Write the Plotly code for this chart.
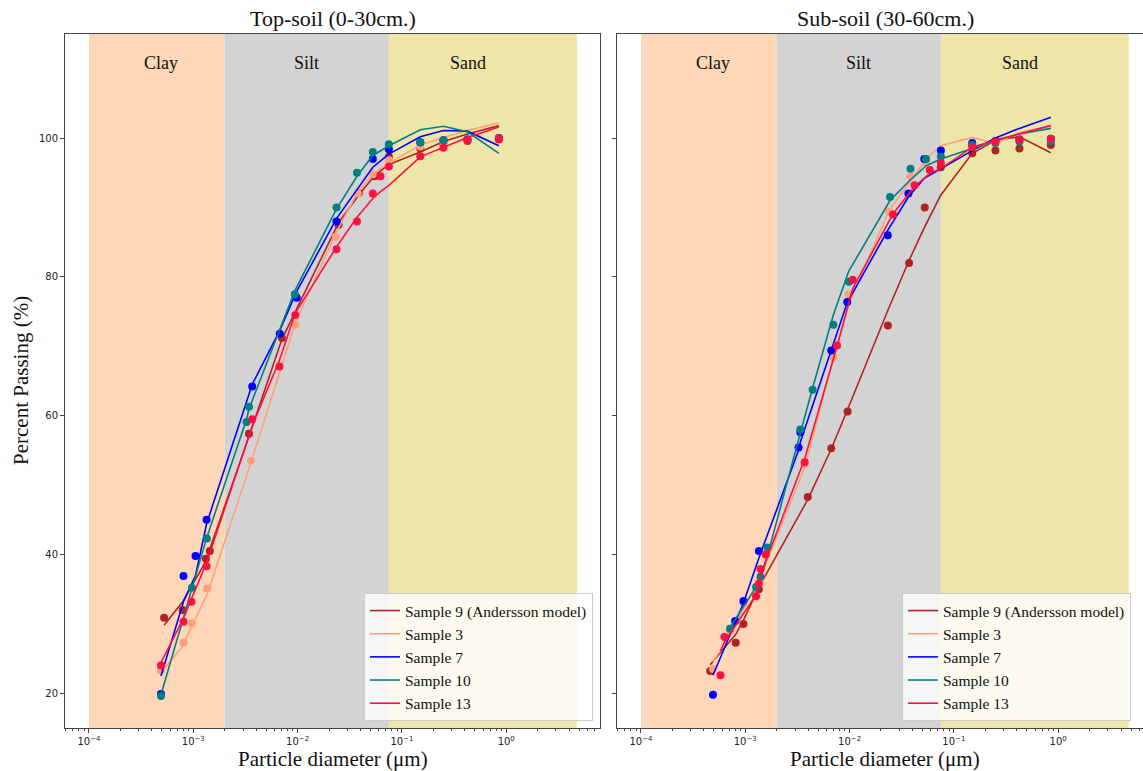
import math
import plotly.graph_objects as go

# ---------------- DATA ----------------
sample_names = ["Sample 9 (Andersson model)", "Sample 3", "Sample 7", "Sample 10", "Sample 13"]
sample_colors = ["#B22222", "#FFA07A", "#0000FF", "#008080", "#FF1040"]

# Top-soil (0-30cm.)
x9t = [0.000525, 0.00079, 0.00132, 0.00144, 0.00342, 0.00707, 0.0247, 0.0386, 0.0548, 0.075, 0.15, 0.25, 0.425, 0.85]
m9t = [30.9, 32.0, 39.4, 40.5, 57.4, 71.2, 87.5, 92.1, 94.5, 97.3, 98.5, 99.2, 99.6, 99.8]
f9t = [29.8, 33.2, 39.0, 40.8, 57.0, 71.0, 87.8, 91.8, 94.6, 96.2, 98.0, 99.5, 100.6, 101.8]

x3t = [0.00049, 0.000805, 0.00097, 0.00136, 0.00358, 0.0095, 0.0232, 0.0378, 0.0526, 0.075, 0.15, 0.25, 0.425, 0.85]
m3t = [23.3, 27.3, 30.1, 35.1, 53.5, 73.1, 85.8, 92.0, 94.8, 96.8, 98.8, 99.4, 99.7, 100.0]
f3t = [23.0, 26.9, 29.7, 34.3, 53.3, 73.3, 86.3, 92.2, 94.8, 96.4, 99.0, 100.1, 101.1, 102.2]

x7t = [0.00049, 0.000805, 0.00105, 0.00134, 0.00367, 0.00675, 0.0098, 0.0236, 0.0526, 0.075, 0.15, 0.25, 0.425, 0.85]
m7t = [19.9, 36.9, 39.8, 45.0, 64.2, 71.8, 77.0, 88.0, 97.0, 98.4, 99.4, 99.7, 99.8, 100.0]
f7t = [22.5, 33.2, 37.0, 44.4, 64.5, 72.3, 77.9, 88.4, 95.8, 97.7, 100.2, 101.1, 101.0, 98.9]

x10t = [0.00049, 0.00097, 0.00135, 0.00324, 0.00342, 0.0094, 0.0236, 0.0371, 0.0526, 0.075, 0.15, 0.25, 0.425, 0.85]
m10t = [19.6, 35.2, 42.3, 59.1, 61.3, 77.5, 90.0, 95.0, 98.0, 99.1, 99.4, 99.7, 99.8, 100.0]
f10t = [19.8, 35.0, 42.5, 59.5, 61.0, 78.0, 89.8, 94.5, 97.5, 98.9, 101.2, 101.7, 100.9, 97.8]

x13t = [0.000489, 0.000805, 0.00096, 0.00134, 0.00367, 0.0067, 0.0095, 0.0236, 0.0371, 0.0526, 0.0623, 0.075, 0.15, 0.25, 0.425, 0.85]
m13t = [24.0, 30.3, 33.2, 38.3, 59.5, 67.1, 74.5, 84.0, 88.0, 92.0, 94.5, 95.9, 97.4, 98.6, 99.7, 99.9]
f13t = [24.4, 30.8, 33.6, 38.8, 58.5, 68.0, 74.8, 84.3, 88.6, 91.3, 92.3, 93.2, 97.3, 98.7, 100.1, 101.6]

# Sub-soil (30-60cm.)
x9s = [0.000461, 0.00081, 0.00096, 0.00135, 0.00397, 0.00667, 0.00957, 0.0233, 0.0372, 0.0525, 0.075, 0.15, 0.25, 0.425, 0.85]
m9s = [23.2, 27.3, 30.0, 35.0, 48.3, 55.3, 60.6, 73.0, 82.0, 90.0, 95.8, 97.8, 98.2, 98.5, 99.0]
f9s = [24.1, 28.5, 30.5, 35.3, 47.9, 55.2, 60.9, 75.2, 82.4, 87.2, 91.8, 97.8, 99.7, 100.2, 97.9]

x3s = [0.00049, 0.00072, 0.00096, 0.0014, 0.0037, 0.00698, 0.0098, 0.0239, 0.038, 0.054, 0.075, 0.15, 0.25, 0.425, 0.85]
m3s = [23.5, 29.0, 33.0, 36.5, 53.0, 68.4, 77.5, 89.4, 94.5, 96.5, 97.5, 99.0, 99.5, 99.6, 99.8]
f3s = [24.5, 28.5, 32.2, 36.8, 52.5, 68.2, 76.0, 89.6, 93.7, 97.0, 98.9, 100.1, 99.2, 100.8, 101.8]

x7s = [0.00049, 0.0008, 0.00096, 0.00135, 0.00324, 0.00337, 0.00667, 0.0095, 0.0232, 0.0366, 0.052, 0.075, 0.15, 0.25, 0.425, 0.85]
m7s = [19.8, 30.4, 33.3, 40.5, 55.4, 57.6, 69.4, 76.4, 86.0, 92.0, 97.0, 98.2, 99.3, 99.6, 99.8, 99.9]
f7s = [22.6, 30.0, 33.0, 39.5, 55.0, 56.2, 69.3, 76.3, 86.7, 91.5, 94.2, 95.6, 98.2, 100.0, 101.4, 103.0]

x10s = [0.000713, 0.00127, 0.0014, 0.00163, 0.00337, 0.00442, 0.00698, 0.0098, 0.0244, 0.0384, 0.054, 0.075, 0.15, 0.25, 0.425, 0.85]
m10s = [29.3, 35.3, 36.8, 41.0, 58.0, 63.75, 73.1, 79.3, 91.5, 95.6, 97.0, 97.3, 99.0, 99.3, 99.5, 99.5]
f10s = [29.5, 35.3, 37.0, 39.8, 57.5, 64.0, 74.5, 80.8, 91.0, 94.0, 96.0, 97.0, 98.5, 99.7, 100.6, 101.4]

x13s = [0.000578, 0.000632, 0.00127, 0.00135, 0.0014, 0.00157, 0.00371, 0.00758, 0.0107, 0.0261, 0.042, 0.0588, 0.075, 0.15, 0.25, 0.425, 0.85]
m13s = [22.6, 28.1, 34.0, 35.8, 37.9, 40.0, 53.3, 70.1, 79.6, 89.0, 93.2, 95.4, 96.4, 98.7, 99.5, 99.8, 99.9]
f13s = [26.1, 27.4, 34.2, 35.6, 36.6, 39.0, 53.8, 70.0, 78.3, 89.1, 93.0, 94.9, 95.6, 98.7, 99.7, 100.6, 101.8]

# soil classes
band_names = ["Clay", "Silt", "Sand"]
band_lo = [0.0001, 0.002, 0.075]
band_hi = [0.002, 0.075, 4.75]
band_label_x = [0.00049, 0.0122, 0.43]
band_colors = ["#FDD7B8", "#D3D3D3", "#EEE6A8"]

panel_titles = ["Top-soil (0-30cm.)", "Sub-soil (30-60cm.)"]
xtick_vals = [1e-4, 1e-3, 1e-2, 1e-1, 1e0]
xtick_text = ["10<sup>−4</sup>", "10<sup>−3</sup>", "10<sup>−2</sup>", "10<sup>−1</sup>", "10<sup>0</sup>"]
ytick_vals = [20, 40, 60, 80, 100]

top_series = [(x9t, m9t, f9t), (x3t, m3t, f3t), (x7t, m7t, f7t), (x10t, m10t, f10t), (x13t, m13t, f13t)]
sub_series = [(x9s, m9s, f9s), (x3s, m3s, f3s), (x7s, m7s, f7s), (x10s, m10s, f10s), (x13s, m13s, f13s)]

# ---------------- FIGURE ----------------
W, H = 1143, 771
TOP, BOT = 34, 728
serif = "Liberation Serif, Times New Roman, serif"
tickfont = dict(family="DejaVu Sans", size=10, color="#222")

fig = go.Figure()

for p, series in enumerate([top_series, sub_series]):
    xa = "x" if p == 0 else "x2"
    ya = "y" if p == 0 else "y2"
    leg = "legend" if p == 0 else "legend2"
    for (xs, ms, fs), name, col in zip(series, sample_names, sample_colors):
        fig.add_trace(go.Scatter(x=xs, y=ms, mode="markers", marker=dict(color=col, size=8),
                                 xaxis=xa, yaxis=ya, showlegend=False, hoverinfo="skip"))
        fig.add_trace(go.Scatter(x=xs, y=fs, mode="lines", line=dict(color=col, width=1.6),
                                 name=name, xaxis=xa, yaxis=ya, legend=leg))

shapes = []
annotations = []
for p in range(2):
    xr = "x" if p == 0 else "x2"
    yr = "y" if p == 0 else "y2"
    for name, lo, hi, lx, c in zip(band_names, band_lo, band_hi, band_label_x, band_colors):
        shapes.append(dict(type="rect", xref=xr, yref=yr + " domain", x0=lo, x1=hi, y0=0, y1=1,
                           fillcolor=c, line=dict(width=0), layer="below"))
        annotations.append(dict(text=name, xref=xr, yref=yr, x=math.log10(lx), y=110.8,
                                showarrow=False, font=dict(family=serif, size=18, color="#111")))

def py2paper(py):
    return (BOT - py) / (BOT - TOP)

centers = [333, 885]
for p in range(2):
    annotations.append(dict(text=panel_titles[p], xref="paper", yref="paper", x=centers[p] / W,
                            y=py2paper(18), xanchor="center", yanchor="middle", showarrow=False,
                            font=dict(family=serif, size=22, color="#111")))
    annotations.append(dict(text="Particle diameter (μm)", xref="paper", yref="paper", x=centers[p] / W,
                            y=py2paper(759), xanchor="center", yanchor="middle", showarrow=False,
                            font=dict(family=serif, size=21, color="#111")))
annotations.append(dict(text="Percent Passing (%)", xref="paper", yref="paper", x=21 / W,
                        y=py2paper(381), xanchor="center", yanchor="middle", showarrow=False,
                        textangle=-90, font=dict(family=serif, size=21, color="#111")))

axis_common = dict(showgrid=False, zeroline=False, showline=True, linecolor="#444", linewidth=1,
                   ticks="outside", ticklen=4, tickcolor="#444", tickfont=tickfont)

xaxis_common = dict(axis_common, type="log", range=[-4.23, 0.899], tickvals=xtick_vals,
                    ticktext=xtick_text, mirror=True,
                    minor=dict(ticks="outside", ticklen=2, tickcolor="#444", dtick="D1", showgrid=False))

legend_style = dict(bgcolor="rgba(255,255,255,0.8)", bordercolor="#cccccc", borderwidth=1,
                    font=dict(family=serif, size=15.5, color="#111"), itemwidth=30)

fig.update_layout(
    width=W, height=H,
    margin=dict(l=0, r=0, t=TOP, b=H - BOT),
    paper_bgcolor="white", plot_bgcolor="white",
    showlegend=True,
    xaxis=dict(xaxis_common, domain=[65 / W, 600 / W], anchor="y"),
    xaxis2=dict(xaxis_common, domain=[617 / W, 1.0], anchor="y2", range=[-4.23, 0.813]),
    yaxis=dict(axis_common, range=[15, 115], tickvals=ytick_vals, mirror=True, anchor="x"),
    yaxis2=dict(axis_common, range=[15, 115], tickvals=ytick_vals, mirror=False, anchor="x2",
                showticklabels=False),
    legend=dict(legend_style, x=593 / W, y=py2paper(721), xanchor="right", yanchor="bottom"),
    legend2=dict(legend_style, x=902 / W, y=py2paper(721), xanchor="left", yanchor="bottom"),
    shapes=shapes,
    annotations=annotations,
)

fig.write_html("out.html")
